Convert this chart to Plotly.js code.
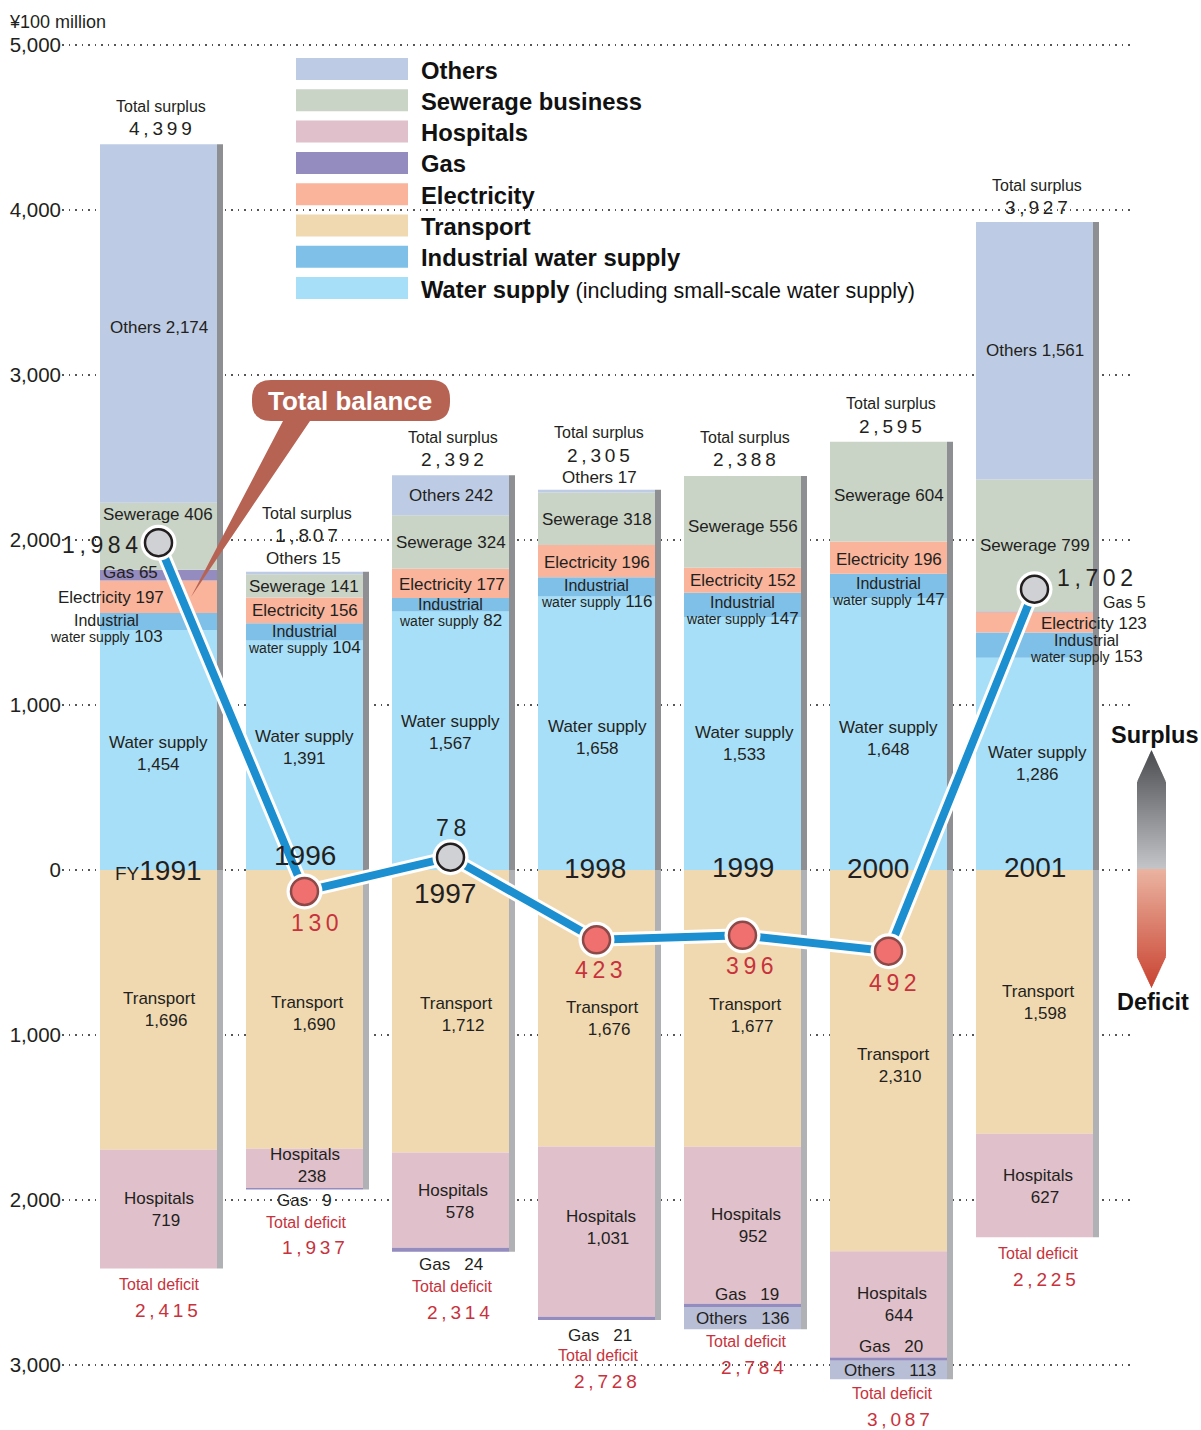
<!DOCTYPE html>
<html><head><meta charset="utf-8">
<script src="https://cdn.plot.ly/plotly-3.0.1.min.js"></script>
<style>html,body{margin:0;padding:0;background:#fff}#chart{width:1201px;height:1430px}</style>
</head><body><div id="chart"></div>
<script>
// ---------------- DATA (¥100 million) ----------------
const years = ['1991','1996','1997','1998','1999','2000','2001'];
const yearLabels = ['FY1991','1996','1997','1998','1999','2000','2001'];
const waterSupply     = [1454, 1391, 1567, 1658, 1533, 1648, 1286];
const industrialWater = [103, 104, 82, 116, 147, 147, 153];
const electricity     = [197, 156, 177, 196, 152, 196, 123];
const gas             = [65, -9, -24, -21, -19, -20, 5];
const sewerage        = [406, 141, 324, 318, 556, 604, 799];
const others          = [2174, 15, 242, 17, -136, -113, 1561];
const transport       = [-1696, -1690, -1712, -1676, -1677, -2310, -1598];
const hospitals       = [-719, -238, -578, -1031, -952, -644, -627];
const totalSurplus    = [4399, 1807, 2392, 2305, 2388, 2595, 3927];
const totalDeficit    = [2415, 1937, 2314, 2728, 2784, 3087, 2225];
const balance         = [1984, -130, 78, -423, -396, -492, 1702];
const yTickVals  = [-3000, -2000, -1000, 0, 1000, 2000, 3000, 4000, 5000];
const yTickText  = ['3,000','2,000','1,000','0','1,000','2,000','3,000','4,000','5,000'];
const legendNames = ['Others','Sewerage business','Hospitals','Gas','Electricity','Transport','Industrial water supply','Water supply'];

// ---------------- STYLE ----------------
const FONT = "'Liberation Sans', Arial, Helvetica, sans-serif";
const TXT = '#231f20', RED = '#c8323c';
const COLORS = {
  water:'#a8dff8', industrial:'#7fc0e9', transport:'#f0d9b0', electricity:'#f9b49b',
  hospitals:'#e0c0ca', gas:'#948bbe', sewerage:'#c9d4c7', others:'#bdcce4'
};
const OTHERS_NEG = '#b8bed6';
const legendColors = [COLORS.others, COLORS.sewerage, COLORS.hospitals, COLORS.gas, COLORS.electricity, COLORS.transport, COLORS.industrial, COLORS.water];

const W = 1201, H = 1430, ML = 62, MR = 71;
const PW = W - ML - MR;
const ZERO_PX = 870, PX_PER = 0.165;
const yMax = ZERO_PX / PX_PER, yMin = -(H - ZERO_PX) / PX_PER;
const X0 = 158.5, STEP = 146;
const xMin = (ML - X0) / STEP, xMax = (W - MR - X0) / STEP;
const BARW = 117 / STEP;
const pxX = px => (px - ML) / PW;
const pxY = py => 1 - py / H;

const series = [
  {key:'water', vals: waterSupply},
  {key:'industrial', vals: industrialWater},
  {key:'transport', vals: transport},
  {key:'electricity', vals: electricity},
  {key:'hospitals', vals: hospitals},
  {key:'gas', vals: gas},
  {key:'sewerage', vals: sewerage},
  {key:'others', vals: others}
];

const traces = [];
series.forEach(s => {
  traces.push({
    type:'bar', x: years, y: s.vals, xaxis:'x', yaxis:'y', width: BARW,
    marker:{color: s.vals.map(v => (s.key === 'others' && v < 0) ? OTHERS_NEG : COLORS[s.key]), line:{width:0}},
    hoverinfo:'skip', showlegend:false
  });
});
// grey side shading of each column
traces.push({type:'bar', x: years, y: totalSurplus, xaxis:'x2', yaxis:'y', width: 6/STEP, offset: BARW/2,
  marker:{color:'#8e8f93', line:{width:0}}, hoverinfo:'skip', showlegend:false});
traces.push({type:'bar', x: years, y: totalDeficit.map(v => -v), xaxis:'x2', yaxis:'y', width: 6/STEP, offset: BARW/2,
  marker:{color:'#b0b1b5', line:{width:0}}, hoverinfo:'skip', showlegend:false});
// total balance line
traces.push({type:'scatter', mode:'lines', x: years, y: balance, xaxis:'x2', yaxis:'y',
  line:{color:'#ffffff', width:14}, hoverinfo:'skip', showlegend:false});
traces.push({type:'scatter', mode:'lines', x: years, y: balance, xaxis:'x2', yaxis:'y',
  line:{color:'#1b8fd0', width:8}, hoverinfo:'skip', showlegend:false});
traces.push({type:'scatter', mode:'markers', x: years, y: balance, xaxis:'x2', yaxis:'y',
  marker:{color:'#ffffff', size:36, line:{width:0}}, hoverinfo:'skip', showlegend:false});
traces.push({type:'scatter', mode:'markers', x: years, y: balance, xaxis:'x2', yaxis:'y',
  marker:{color: balance.map(v => v >= 0 ? '#d0d1d4' : '#f07070'), size:27,
          line:{width:2.5, color: balance.map(v => v >= 0 ? '#231f20' : '#8b4a48')}},
  hoverinfo:'skip', showlegend:false});

// ---------------- ANNOTATIONS ----------------
const fmt = v => Math.abs(v).toLocaleString('en-US');
const spaced = v => fmt(v).split('').join('\u2009');
const NB3 = '\u00a0\u00a0\u00a0';
const annotations = [];
function ann(i, yv, text, dx, dy, o) {
  annotations.push(Object.assign({
    xref:'x', yref:'y', x: i, y: yv, text: text, showarrow:false,
    xanchor:'center', yanchor:'middle', xshift: dx || 0, yshift: -(dy || 0),
    font:{family: FONT, size:17, color: TXT}
  }, o || {}));
}

// segment label offsets [dx, dy] (px, dy positive downward)
const segOff = {
  water:      [[0,3],[0,-8],[0,-8],[1,4],[2,0],[0,4],[3,0]],
  industrial: [[-52,7],[0,8],[0,8],[0,7],[0,6],[0,6],[52,3]],
  electricity:[[-48,1],[0,0],[1,1],[0,1],[0,0],[0,2],[59,1]],
  gas:        [[-28,-3],[0,12],[0,15],[3,17],[4,-11],[2,-13],[90,-9]],
  sewerage:   [[-1,-22],[-1,1],[0,1],[0,1],[0,5],[0,4],[0,0]],
  others:     [[0,4],[-1,-15],[0,0],[3,-14],[0,0],[1,0],[0,0]],
  transport:  [[0,0],[2,4],[5,3],[5,10],[2,7],[4,5],[3,1]],
  hospitals:  [[0,0],[0,-3],[2,1],[4,-4],[3,0],[3,0],[3,1]]
};
years.forEach((yr, i) => {
  let pos = 0, neg = 0;
  series.forEach(s => {
    const v = s.vals[i];
    let lo, hi;
    if (v >= 0) { lo = pos; hi = pos + v; pos = hi; } else { hi = neg; lo = neg + v; neg = lo; }
    const c = (lo + hi) / 2;
    const [dx, dy] = segOff[s.key][i];
    switch (s.key) {
      case 'water': ann(i, c, 'Water supply<br>' + fmt(v), dx, dy); break;
      case 'industrial':
        ann(i, c, 'Industrial', dx, dy - 8, {font:{family:FONT, size:16, color:TXT}});
        ann(i, c, '<span style="font-size:14px">water supply</span> ' + fmt(v), dx, dy + 8);
        break;
      case 'electricity': ann(i, c, 'Electricity ' + fmt(v), dx, dy); break;
      case 'gas':
        if (v > 0) ann(i, c, 'Gas ' + fmt(v), dx, dy, {font:{family:FONT, size: (v < 20 ? 16 : 17), color:TXT}});
        else ann(i, c, 'Gas' + NB3 + fmt(v), dx, dy);
        break;
      case 'sewerage': ann(i, c, 'Sewerage ' + fmt(v), dx, dy); break;
      case 'others': ann(i, c, v > 0 ? 'Others ' + fmt(v) : 'Others' + NB3 + fmt(v), dx, dy); break;
      case 'transport': ann(i, c, 'Transport<br>' + NB3 + fmt(v), dx, dy); break;
      case 'hospitals': ann(i, c, 'Hospitals<br>' + NB3 + fmt(v), dx, dy); break;
    }
  });
});

// fiscal year labels at the zero line
const yearOff = [[0,0],[0,-15],[-6,23],[-2,-2],[0,-3],[-11,-2],[0,-3]];
yearLabels.forEach((lab, i) => {
  const t = lab.startsWith('FY') ? '<span style="font-size:19px">FY</span>' + lab.slice(2) : lab;
  ann(i, 0, t, yearOff[i][0], yearOff[i][1], {font:{family:FONT, size:28, color:TXT}});
});

// total balance labels
const balOff = [[-18.5,2,'right'],[10,31.5,'center'],[0.5,-29,'center'],[2.5,30,'center'],[7.5,31,'center'],[4.5,32,'center'],[20,-11,'left']];
balance.forEach((b, i) => {
  ann(i, b, spaced(b), balOff[i][0], balOff[i][1],
      {xanchor: balOff[i][2], font:{family:FONT, size:23, color: b >= 0 ? TXT : RED}});
});

// total surplus / deficit labels
const surTitleDy = [-38,-58,-38,-57,-38,-38,-37];
const surNumDy   = [-16,-36,-16,-34,-16,-15,-15];
totalSurplus.forEach((t, i) => {
  ann(i, t, 'Total surplus', 2, surTitleDy[i], {font:{family:FONT, size:16, color:TXT}});
  ann(i, t, spaced(t), 2, surNumDy[i], {font:{family:FONT, size:19, color:TXT}});
});
const defTitleDx = [1,2,2,2,4,4,4];
const defNumDx   = [7.5,8.5,7.5,8.5,9.5,9.5,10];
const defTitleDy = [16.5,32.4,35,35,12.6,14.6,16];
const defNumDy   = [42.5,58,61,61,38.6,40.6,42];
totalDeficit.forEach((t, i) => {
  ann(i, -t, 'Total deficit', defTitleDx[i], defTitleDy[i], {font:{family:FONT, size:16, color:RED}});
  ann(i, -t, spaced(t), defNumDx[i], defNumDy[i], {font:{family:FONT, size:19, color:RED}});
});

// unit label
annotations.push({xref:'paper', yref:'paper', x: pxX(7), y: pxY(22), xanchor:'left', yanchor:'middle',
  text:'¥100 million', showarrow:false, font:{family:FONT, size:18, color:TXT}});

// ---------------- SHAPES (legend, callout, arrow) ----------------
const shapes = [];
legendNames.forEach((n, k) => {
  const top = 58 + k * 31.3;
  shapes.push({type:'rect', xref:'paper', yref:'paper', x0: pxX(296), x1: pxX(408), y0: pxY(top + 22), y1: pxY(top),
    fillcolor: legendColors[k], line:{width:0}, layer:'above'});
  const txt = k === legendNames.length - 1
    ? '<b>' + n + '</b><span style="font-size:21.5px"> (including small-scale water supply)</span>'
    : '<b>' + n + '</b>';
  annotations.push({xref:'paper', yref:'paper', x: pxX(419), y: pxY(top + 12), xanchor:'left', yanchor:'middle',
    text: txt, showarrow:false, font:{family:FONT, size:23.8, color:'#111'}});
});

const P = (x, y) => pxX(x).toFixed(5) + ',' + pxY(y).toFixed(5);
{
  const x1 = 252, x2 = 450, y1 = 380, y2 = 421, r = 19;
  const path = 'M' + P(x1 + r, y1) + ' L' + P(x2 - r, y1) + ' Q' + P(x2, y1) + ' ' + P(x2, y1 + r) +
    ' L' + P(x2, y2 - r) + ' Q' + P(x2, y2) + ' ' + P(x2 - r, y2) +
    ' L' + P(310, y2) + ' L' + P(191, 597) + ' L' + P(283, y2) +
    ' L' + P(x1 + r, y2) + ' Q' + P(x1, y2) + ' ' + P(x1, y2 - r) +
    ' L' + P(x1, y1 + r) + ' Q' + P(x1, y1) + ' ' + P(x1 + r, y1) + ' Z';
  shapes.push({type:'path', xref:'paper', yref:'paper', path: path, fillcolor:'#b76353', line:{width:0}, layer:'above'});
  annotations.push({xref:'paper', yref:'paper', x: pxX(350), y: pxY(401), xanchor:'center', yanchor:'middle',
    text:'<b>Total balance</b>', showarrow:false, font:{family:FONT, size:26, color:'#ffffff'}});
}

// surplus / deficit gradient arrow
{
  const cx = 1151.5, hw = 14.5;
  const halfW = y => {
    if (y <= 782) return hw * Math.max(0, (y - 750) / 32);
    if (y >= 957) return hw * Math.max(0, (988 - y) / 31);
    return hw;
  };
  const hex = h => [parseInt(h.slice(1,3),16), parseInt(h.slice(3,5),16), parseInt(h.slice(5,7),16)];
  const mix = (a, b, t) => { const A = hex(a), B = hex(b); return 'rgb(' + A.map((v, j) => Math.round(v + (B[j] - v) * t)).join(',') + ')'; };
  const band = (ya, yb, ca, cb) => {
    const step = 2;
    for (let y = ya; y < yb; y += step) {
      const ye = Math.min(yb, y + step + 0.6);
      const t = (y - ya) / (yb - ya);
      const wa = halfW(y), wb = halfW(ye);
      const path = 'M' + P(cx - wa, y) + ' L' + P(cx + wa, y) + ' L' + P(cx + wb, ye) + ' L' + P(cx - wb, ye) + ' Z';
      shapes.push({type:'path', xref:'paper', yref:'paper', path: path, fillcolor: mix(ca, cb, t), line:{width:0}, layer:'above'});
    }
  };
  band(750, 869, '#4b4c4f', '#c4c6c9');
  band(869, 988, '#eab3a0', '#c94230');
  annotations.push({xref:'paper', yref:'paper', x: pxX(1154), y: pxY(735), xanchor:'center', yanchor:'middle',
    text:'<b>Surplus</b>', showarrow:false, font:{family:FONT, size:23.5, color:'#111'}});
  annotations.push({xref:'paper', yref:'paper', x: pxX(1153), y: pxY(1002), xanchor:'center', yanchor:'middle',
    text:'<b>Deficit</b>', showarrow:false, font:{family:FONT, size:23.5, color:'#111'}});
}

// ---------------- LAYOUT ----------------
const layout = {
  width: W, height: H,
  margin:{l: ML, r: MR, t: 0, b: 0, pad: 0},
  paper_bgcolor:'#ffffff', plot_bgcolor:'#ffffff',
  barmode:'relative', showlegend:false,
  font:{family: FONT, color: TXT},
  xaxis:{type:'category', categoryarray: years, range:[xMin, xMax], showticklabels:false, showgrid:false,
         zeroline:false, showline:false, ticks:'', fixedrange:true},
  xaxis2:{type:'category', categoryarray: years, range:[xMin, xMax], overlaying:'x', visible:false, fixedrange:true},
  yaxis:{range:[yMin, yMax], tickvals: yTickVals, ticktext: yTickText, showgrid:true, gridcolor:'#555',
         griddash:'1.5px,5px', gridwidth:1.5, zeroline:false, showline:false, ticks:'',
         tickfont:{family: FONT, size:20.5, color: TXT}, fixedrange:true},
  shapes: shapes,
  annotations: annotations
};
Plotly.newPlot('chart', traces, layout, {staticPlot:true, displayModeBar:false});
</script>
</body></html>
